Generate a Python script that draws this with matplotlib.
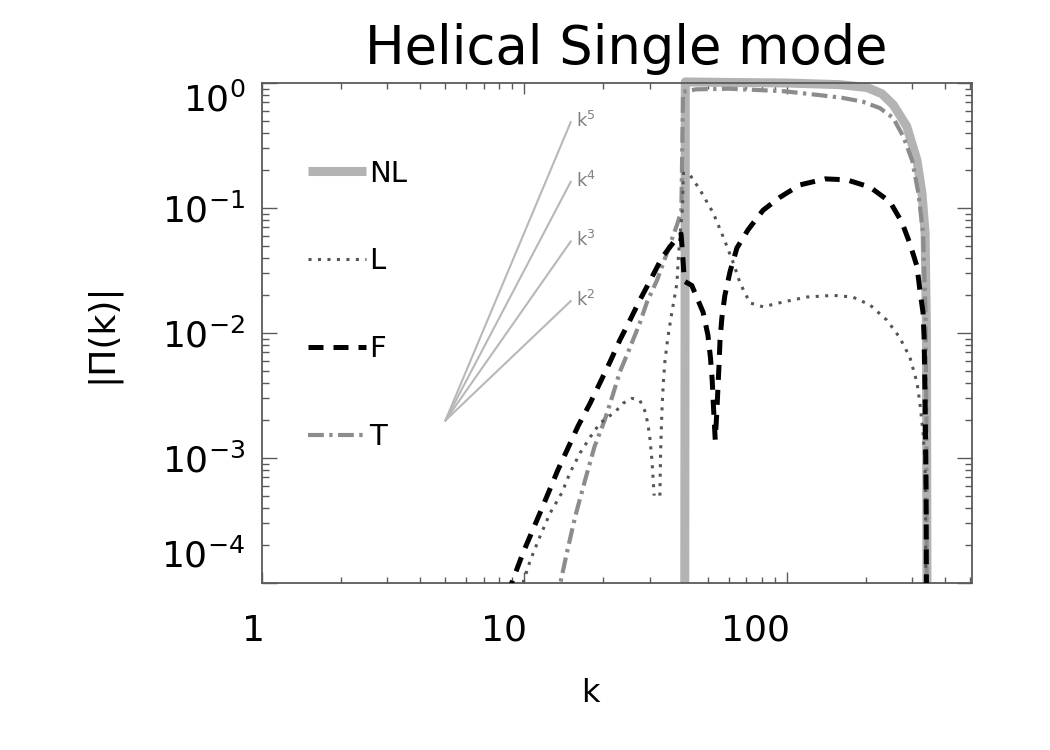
import matplotlib
matplotlib.use("Agg")
import matplotlib.pyplot as plt
import matplotlib.ticker as mticker
import matplotlib.transforms as mtransforms
import numpy as np

# ---------------- data ----------------
k_nl = [40.8, 41.0, 60, 100, 159, 202, 230, 254, 286, 313, 327, 336, 340, 341.5]
p_nl = [1e-4, 1.02, 1.01, 1.0, 0.97, 0.92, 0.82, 0.67, 0.45, 0.24, 0.13, 0.063, 0.01, 1e-4]

k_l1 = [9.6, 9.87, 10.5, 11.4, 12.5, 13.9, 14.9, 16.3, 17.8, 19.4, 22.2, 23.8, 25.7,
        27.5, 28.7, 29.5, 30.1, 30.6, 31.2]
p_l1 = [8.5e-5, 1e-4, 1.5e-4, 2.3e-4, 3.6e-4, 5.3e-4, 7.6e-4, 1.1e-3, 1.47e-3, 1.9e-3,
        2.35e-3, 2.75e-3, 3.0e-3, 2.9e-3, 2.4e-3, 1.9e-3, 1.4e-3, 9.5e-4, 5e-4]
k_l2 = [32.8, 33.0, 33.4, 33.8, 34.3, 35.2, 36.4, 38.1, 38.5, 39.2, 40.0, 40.3, 42.7,
        46.6, 52.4, 57.3, 62.6, 66.3, 72.3, 81.1, 96.6, 119, 150, 178, 207, 240, 268,
        294, 313, 321, 330, 336, 341]
p_l2 = [5e-4, 1.1e-3, 2.4e-3, 4e-3, 6e-3, 9.3e-3, 0.0145, 0.025, 0.038, 0.063, 0.10,
        0.19, 0.184, 0.14, 0.091, 0.058, 0.036, 0.025, 0.0174, 0.0162, 0.0177, 0.0194,
        0.020, 0.0194, 0.0168, 0.0127, 0.0093, 0.0064, 0.004, 2.75e-3, 1.6e-3, 9e-4, 1e-5]

k_f = [8.7, 8.94, 9.87, 11.5, 13.4, 16.0, 17.8, 19.4, 21.2, 23.1, 25.2, 27.5, 30.6, 33.4,
       38.1, 39.5, 40.3, 40.6, 43.4, 47.9, 50.0, 51.1, 51.9, 52.4, 53.3, 54.1, 54.6, 55.1,
       55.6, 56.5, 58.0, 60.7, 64.5, 71.1, 81.1, 94.1, 112, 140, 169, 207, 247, 274, 294,
       313, 321, 330, 333, 336, 339, 341]
p_f = [8e-5, 1e-4, 1.74e-4, 3.7e-4, 8e-4, 1.8e-3, 2.75e-3, 4.0e-3, 5.9e-3, 8.8e-3, 0.0126,
       0.0183, 0.028, 0.040, 0.058, 0.062, 0.035, 0.026, 0.024, 0.0147, 9.6e-3, 6.4e-3,
       4.2e-3, 2.75e-3, 1.4e-3, 2.4e-3, 3.7e-3, 5.5e-3, 8.8e-3, 0.0132, 0.020, 0.031,
       0.048, 0.067, 0.096, 0.122, 0.153, 0.171, 0.168, 0.147, 0.112, 0.077, 0.052, 0.034,
       0.022, 0.0145, 9.3e-3, 3e-3, 5e-4, 1e-5]

k_t = [13.2, 13.7, 14.5, 15.6, 17.0, 18.5, 20.2, 21.6, 23.1, 25.2, 27.5, 29.3, 32.0, 35.2,
       38.1, 39.6, 40.2, 45, 60, 97, 133, 163, 194, 226, 254, 278, 300, 317, 330, 337, 340,
       341.5]
p_t = [7e-5, 1.0e-4, 1.74e-4, 3.4e-4, 6.6e-4, 1.24e-3, 2.0e-3, 3.1e-3, 4.9e-3, 7.6e-3,
       0.012, 0.0177, 0.0265, 0.046, 0.073, 0.095, 0.85, 0.89, 0.90, 0.86, 0.80, 0.76,
       0.71, 0.63, 0.525, 0.37, 0.24, 0.13, 0.063, 0.015, 2e-3, 1e-6]

ref_powers = [5, 4, 3, 2]
ref_k = [5.0, 15.0]
ref_p0 = 2e-3

x_ticks = [1, 10, 100]
x_ticklabels = ["1", "10", "100"]
y_ticks = [1e-4, 1e-3, 1e-2, 1e-1, 1e0]
y_ticklabels = [r"$10^{-4}$", r"$10^{-3}$", r"$10^{-2}$", r"$10^{-1}$", r"$10^{0}$"]

# ---------------- font ----------------
plt.rcParams["font.family"] = ["DejaVu Sans"]
plt.rcParams["mathtext.fontset"] = "dejavusans"
plt.rcParams["mathtext.default"] = "regular"

# ---------------- figure ----------------
fig = plt.figure(figsize=(10.5, 7.5), dpi=100)
ax = fig.add_axes([262 / 1050, 1 - 583 / 750, 710 / 1050, 500 / 750])
ax.set_xscale("log")
ax.set_yscale("log")
ax.set_xlim(1, 507)
ax.set_ylim(1e-4, 1.0)

axcol = "#5a5a5a"
c_nl = "#b3b3b3"
c_t = "#8c8c8c"
c_l = "#555555"
c_f = "#000000"

ax.plot(k_nl, p_nl, color=c_nl, lw=6.5, solid_capstyle="butt", label="NL", zorder=2,
        clip_on=False)
ax.plot(k_t, p_t, color=c_t, lw=3.0, dashes=(3.8, 1.3, 0.8, 1.3), label="T", zorder=3)
ax.plot(k_l1, p_l1, color=c_l, lw=2.2, dashes=(1.0, 2.1), zorder=4)
ax.plot(k_l2, p_l2, color=c_l, lw=2.2, dashes=(1.0, 2.1), label="L", zorder=4)
ax.plot(k_f, p_f, color=c_f, lw=3.6, dashes=(3.0, 2.0), label="F", zorder=5)

# reference power laws
rk = np.array(ref_k)
for n in ref_powers:
    rp = ref_p0 * (rk / rk[0]) ** n
    ax.plot(rk, rp, color="#b8b8b8", lw=1.5, zorder=1)
    ax.text(rk[-1] * 1.05, rp[-1] * 1.02, rf"$k^{n}$", color="#808080", fontsize=13,
            ha="left", va="center")

# legend
h = {l.get_label(): l for l in ax.get_lines()}
leg = ax.legend([h["NL"], h["L"], h["F"], h["T"]], ["NL", "L", "F", "T"],
                loc="upper left", bbox_to_anchor=(0.048, 0.87), frameon=False,
                fontsize=21, handlelength=2.0, handletextpad=0.1, labelspacing=2.05,
                borderaxespad=0)

# axes style
for s in ax.spines.values():
    s.set_color(axcol)
    s.set_linewidth(1.3)
ax.tick_params(which="both", direction="in", top=True, right=True, color=axcol, width=1.0,
               labelcolor="black")
ax.tick_params(axis="y", which="major", length=10.5)
ax.tick_params(axis="y", which="minor", length=5)
ax.tick_params(axis="x", which="major", length=8)
ax.tick_params(axis="x", which="minor", length=4)
ax.set_xticks(x_ticks)
ax.set_xticklabels(x_ticklabels, fontsize=26, ha="right")
ax.set_yticks(y_ticks)
ax.set_yticklabels(y_ticklabels, fontsize=26)
ax.tick_params(axis="x", which="major", pad=22)
ax.tick_params(axis="y", which="major", pad=12)
ax.xaxis.set_minor_formatter(mticker.NullFormatter())
ax.yaxis.set_minor_formatter(mticker.NullFormatter())
ax.yaxis.set_minor_locator(mticker.LogLocator(base=10, subs=np.arange(2, 10), numticks=20))
ax.xaxis.set_minor_locator(mticker.LogLocator(base=10, subs=np.arange(2, 10), numticks=20))

# shift the top and bottom y labels inward like the original
yl = ax.get_yticklabels()
yl[0].set_transform(yl[0].get_transform() + mtransforms.ScaledTranslation(0, 30 / 100, fig.dpi_scale_trans))
yl[-1].set_transform(yl[-1].get_transform() + mtransforms.ScaledTranslation(0, -14 / 100, fig.dpi_scale_trans))
xl = ax.get_xticklabels()
for t in xl:
    t.set_transform(t.get_transform() + mtransforms.ScaledTranslation(3 / 100, 0, fig.dpi_scale_trans))

ax.set_xlabel("k", fontsize=23, labelpad=22, x=0.463)
ax.set_ylabel("|Π(k)|", fontsize=26, labelpad=30)
ax.set_title("Helical Single mode", fontsize=38, pad=14, x=0.513)

fig.savefig("out.png", dpi=100)
